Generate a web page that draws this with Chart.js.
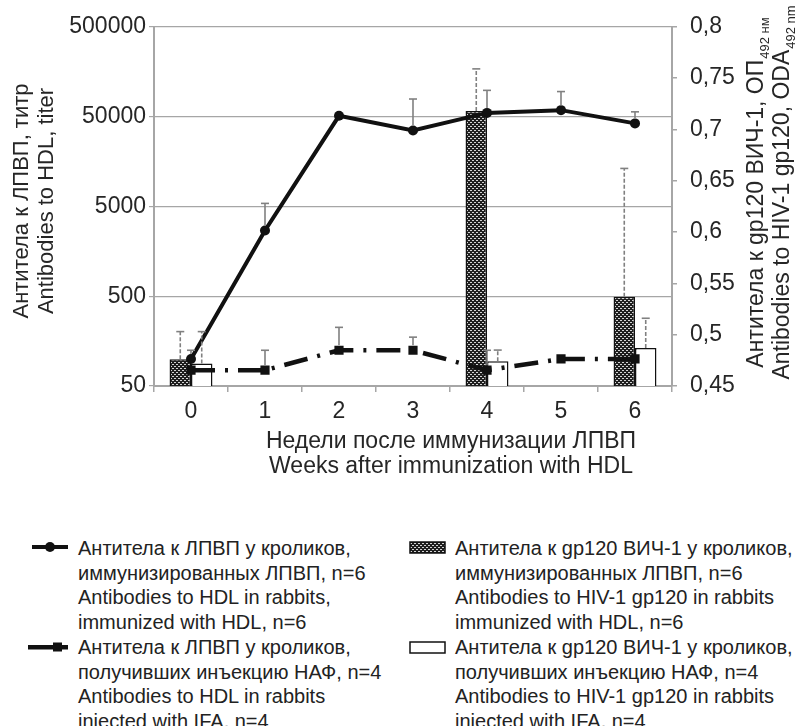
<!DOCTYPE html>
<html>
<head>
<meta charset="utf-8">
<script src="https://cdn.jsdelivr.net/npm/chart.js@4/dist/chart.umd.min.js"></script>
<style>
    body { margin: 0; background: #fff; }
    #wrap { position: relative; width: 798px; height: 726px; overflow: hidden; font-family: 'Liberation Sans', Arial, sans-serif; color: #222; }
    #chart { position: absolute; left: 0; top: 0; }
    .item { position: absolute; font-size: 20px; line-height: 24.6px; white-space: nowrap; }
    .icon { position: absolute; }
</style>
</head>
<body>
<div id="wrap">
    <canvas id="chart" width="798" height="490"></canvas>
</div>
<script>
// данные
const weeks = ['0', '1', '2', '3', '4', '5', '6'];
const hdlImmunized = [100, 2700, 51000, 35000, 55000, 59000, 42000];
const hdlImmunizedErr = [25, 2700, 0, 43500, 43000, 36000, 14500];
const hdlIfa = [75, 75, 125, 125, 75, 100, 100];
const hdlIfaErr = [0, 50, 100, 50, 50, 0, 0];
const hivHdl = [0.476, null, null, null, 0.718, null, 0.537];
const hivHdlErr = [0.027, 0, 0, 0, 0.041, 0, 0.125];
const hivIfa = [0.472, null, null, null, 0.474, null, 0.487];
const hivIfaErr = [0.031, 0, 0, 0, 0.011, 0, 0.029];

const leftTicks = [50, 500, 5000, 50000, 500000];
const rightTicks = [0.45, 0.5, 0.55, 0.6, 0.65, 0.7, 0.75, 0.8];

const seriesLabels = [
    ['Антитела к ЛПВП у кроликов,', 'иммунизированных ЛПВП, n=6', 'Antibodies to HDL in rabbits,', 'immunized with HDL, n=6'],
    ['Антитела к ЛПВП у кроликов,', 'получивших инъекцию НАФ, n=4', 'Antibodies to HDL in rabbits', 'injected with IFA, n=4'],
    ['Антитела к gp120 ВИЧ-1 у кроликов,', 'иммунизированных ЛПВП, n=6', 'Antibodies to HIV-1 gp120 in rabbits', 'immunized with HDL, n=6'],
    ['Антитела к gp120 ВИЧ-1 у кроликов,', 'получивших инъекцию НАФ, n=4', 'Antibodies to HIV-1 gp120 in rabbits', 'injected with IFA, n=4']
];
const leftTitle = ['Антитела к ЛПВП, титр', 'Antibodies to HDL, titer'];
const rightTitle = [['Антитела к gp120 ВИЧ-1, ОП', '492 нм'], ['Antibodies to HIV-1 gp120, ODA', '492 nm']];
const xTitle = ['Недели после иммунизации ЛПВП', 'Weeks after immunization with HDL'];

const family = "'Liberation Sans', Arial, sans-serif";
const textColor = '#262626';
const axisColor = '#a6a6a6';

// штриховка для столбиков
function makePattern(ctx) {
    const c = document.createElement('canvas');
    c.width = 4; c.height = 4;
    const p = c.getContext('2d');
    p.fillStyle = '#1e1e1e';
    p.fillRect(0, 0, 4, 4);
    p.fillStyle = '#d4d4d4';
    p.fillRect(0, 0, 2, 1);
    p.fillRect(2, 2, 2, 1);
    return ctx.createPattern(c, 'repeat');
}

// error bars (только вверх)
const errorBars = {
    id: 'errorBars',
    afterDatasetsDraw(chart) {
        const ctx = chart.ctx;
        ctx.save();
        chart.data.datasets.forEach((ds, di) => {
            if (!ds.errors) return;
            const meta = chart.getDatasetMeta(di);
            const scale = chart.scales[meta.yAxisID];
            meta.data.forEach((el, i) => {
                const v = ds.data[i], e = ds.errors[i];
                if (v == null || !e) return;
                const top = scale.getPixelForValue(v + e);
                const start = ds.type === 'line' ? el.y - 5 : el.y;
                ctx.strokeStyle = '#808080';
                ctx.lineWidth = 1.6;
                ctx.setLineDash(ds.type === 'bar' ? [4, 2] : []);
                ctx.beginPath();
                ctx.moveTo(el.x, start);
                ctx.lineTo(el.x, top);
                ctx.stroke();
                ctx.setLineDash([]);
                ctx.beginPath();
                ctx.moveTo(el.x - 4, top);
                ctx.lineTo(el.x + 4, top);
                ctx.stroke();
            });
        });
        ctx.restore();
    }
};

// подписи осей
const axisTitles = {
    id: 'axisTitles',
    afterDraw(chart) {
        const ctx = chart.ctx;
        ctx.save();
        ctx.fillStyle = textColor;
        ctx.textBaseline = 'middle';
        ctx.font = '23px ' + family;
        ctx.textAlign = 'center';
        xTitle.forEach((t, i) => ctx.fillText(t, 451, 442 + i * 25));

        ctx.font = '22px ' + family;
        [22, 47].forEach((x, i) => {
            ctx.save();
            ctx.translate(x, 201);
            ctx.rotate(-Math.PI / 2);
            ctx.fillText(leftTitle[i], 0, 0);
            ctx.restore();
        });

        ctx.textAlign = 'left';
        [757, 783].forEach((x, i) => {
            const [main, sub] = rightTitle[i];
            ctx.font = '23px ' + family;
            const w1 = ctx.measureText(main).width;
            ctx.font = '13px ' + family;
            const w2 = ctx.measureText(sub).width;
            ctx.save();
            ctx.translate(x, 193);
            ctx.rotate(-Math.PI / 2);
            const sx = -(w1 + w2) / 2;
            ctx.font = '23px ' + family;
            ctx.fillText(main, sx, 0);
            ctx.font = '13px ' + family;
            ctx.fillText(sub, sx + w1 + 1, 8);
            ctx.restore();
        });
        ctx.restore();
    }
};

const canvas = document.getElementById('chart');
const hatch = makePattern(canvas.getContext('2d'));

new Chart(canvas, {
    data: {
        labels: weeks,
        datasets: [
            {
                type: 'line',
                label: seriesLabels[0].join(' '),
                data: hdlImmunized,
                errors: hdlImmunizedErr,
                yAxisID: 'y',
                borderColor: '#111',
                borderWidth: 4,
                pointRadius: 5,
                pointBackgroundColor: '#111',
                pointBorderWidth: 0,
                order: 0
            },
            {
                type: 'line',
                label: seriesLabels[1].join(' '),
                data: hdlIfa,
                errors: hdlIfaErr,
                yAxisID: 'y',
                borderColor: '#111',
                borderWidth: 4.5,
                borderDash: [24, 10, 3, 10],
                pointStyle: 'rect',
                pointRadius: 6.5,
                pointBackgroundColor: '#111',
                pointBorderWidth: 0,
                order: 0
            },
            {
                type: 'bar',
                label: seriesLabels[2].join(' '),
                data: hivHdl,
                errors: hivHdlErr,
                yAxisID: 'y1',
                backgroundColor: hatch,
                borderColor: '#111',
                borderWidth: 1.5,
                categoryPercentage: 0.58,
                barPercentage: 1,
                order: 1
            },
            {
                type: 'bar',
                label: seriesLabels[3].join(' '),
                data: hivIfa,
                errors: hivIfaErr,
                yAxisID: 'y1',
                backgroundColor: '#fff',
                borderColor: '#111',
                borderWidth: 1.5,
                categoryPercentage: 0.58,
                barPercentage: 1,
                order: 1
            }
        ]
    },
    options: {
        responsive: false,
        animation: false,
        layout: { padding: { top: 23, left: 0, right: 0, bottom: 0 } },
        plugins: {
            legend: { display: false },
            tooltip: { enabled: false }
        },
        scales: {
            x: {
                offset: true,
                grid: { offset: true, drawOnChartArea: false, color: axisColor, tickLength: 6, lineWidth: 1.5 },
                border: { color: axisColor, width: 2 },
                ticks: { color: textColor, font: { family: family, size: 23 }, padding: 6 },
                afterFit: s => { s.height = 490 - 386; }
            },
            y: {
                type: 'logarithmic',
                position: 'left',
                min: 50,
                max: 500000,
                afterBuildTicks: s => { s.ticks = leftTicks.map(v => ({ value: v })); },
                ticks: { callback: v => String(v), color: textColor, font: { family: family, size: 23 }, padding: 3 },
                grid: { color: axisColor, lineWidth: 1.2, tickLength: 5 },
                border: { color: axisColor, width: 2 },
                afterFit: s => { s.width = 154; }
            },
            y1: {
                type: 'linear',
                position: 'right',
                min: 0.45,
                max: 0.8,
                afterBuildTicks: s => { s.ticks = rightTicks.map(v => ({ value: v })); },
                ticks: { callback: v => String(v).replace('.', ','), color: textColor, font: { family: family, size: 23 }, padding: 13 },
                grid: { drawOnChartArea: false, color: axisColor, tickLength: 5, lineWidth: 1.5 },
                border: { color: axisColor, width: 2 },
                afterFit: s => { s.width = 126; }
            }
        }
    },
    plugins: [errorBars, axisTitles]
});

// легенда
const wrap = document.getElementById('wrap');
const legendPos = [
    { left: 78, top: 536, iconX: 28, iconY: 537 },
    { left: 78, top: 635, iconX: 28, iconY: 637 },
    { left: 455, top: 536, iconX: 408, iconY: 537 },
    { left: 455, top: 635, iconX: 408, iconY: 637 }
];
seriesLabels.forEach((lines, i) => {
    const p = legendPos[i];
    const item = document.createElement('div');
    item.className = 'item';
    item.style.left = p.left + 'px';
    item.style.top = p.top + 'px';
    item.innerHTML = lines.join('<br>');
    wrap.appendChild(item);

    const ic = document.createElement('canvas');
    ic.className = 'icon';
    ic.width = 44; ic.height = 20;
    ic.style.left = p.iconX + 'px';
    ic.style.top = p.iconY + 'px';
    const c = ic.getContext('2d');
    c.fillStyle = '#111';
    if (i === 0) {
        c.fillRect(4, 8, 36, 4);
        c.beginPath(); c.arc(22, 10, 5, 0, Math.PI * 2); c.fill();
    } else if (i === 1) {
        c.fillRect(0, 8, 40, 4.5);
        c.fillRect(25, 5.5, 9, 9);
    } else {
        c.fillStyle = i === 2 ? makePattern(c) : '#fff';
        c.fillRect(2, 5, 35, 11);
        c.strokeStyle = '#111';
        c.lineWidth = 1.5;
        c.strokeRect(2, 5, 35, 11);
    }
    wrap.appendChild(ic);
});
</script>
</body>
</html>
